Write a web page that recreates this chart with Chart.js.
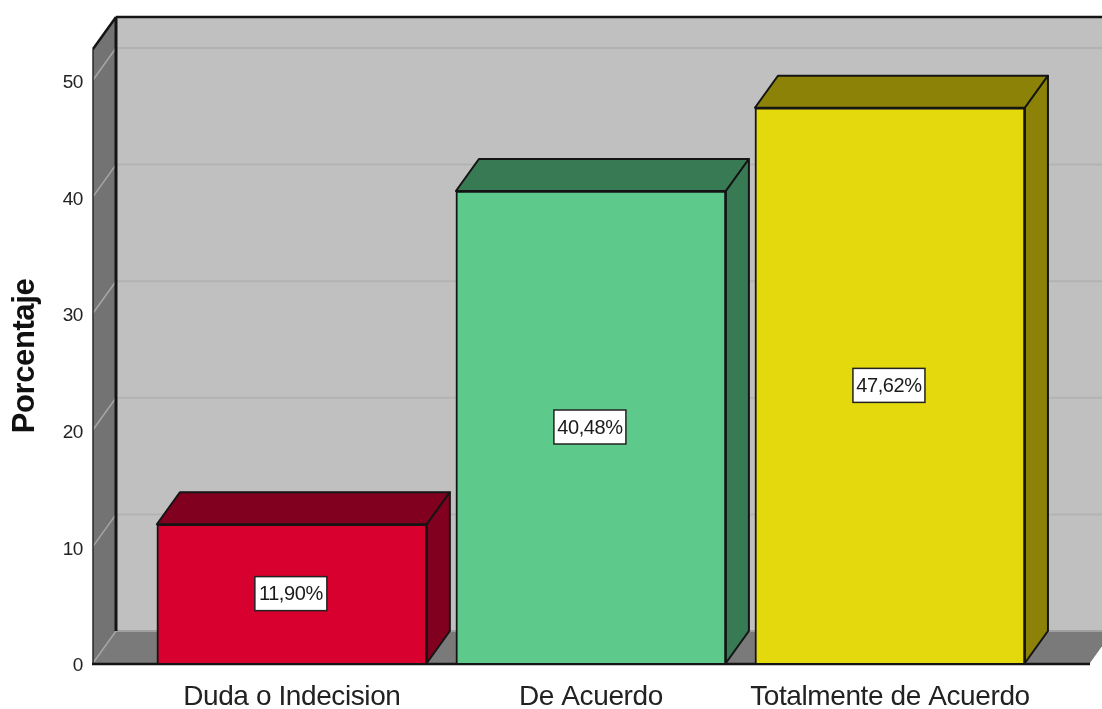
<!DOCTYPE html>
<html>
<head>
<meta charset="utf-8">
<style>html,body{margin:0;padding:0;background:#fff}canvas{display:block}</style>
<script src="https://cdn.jsdelivr.net/npm/chart.js@4"></script>
</head>
<body>
<canvas id="c" width="1102" height="709"></canvas>
<script>
const categories = ["Duda o Indecision", "De Acuerdo", "Totalmente de Acuerdo"];
const values = [11.90, 40.48, 47.62];
const valueLabels = ["11,90%", "40,48%", "47,62%"];
const frontColors = ["#d7002e", "#5dca8b", "#e4d90c"];
const depthColors = ["#82001f", "#377a54", "#8c8208"];
const yTicks = [0, 10, 20, 30, 40, 50];
const axisTitle = "Porcentaje";

const DX = 23, DY = -32, INK = "#141414";
const SANS = '"Liberation Sans",Arial,sans-serif';

function poly(ctx, pts, fill, stroke, lw) {
  ctx.beginPath();
  pts.forEach((p, i) => i ? ctx.lineTo(p[0], p[1]) : ctx.moveTo(p[0], p[1]));
  ctx.closePath();
  if (fill) { ctx.fillStyle = fill; ctx.fill(); }
  if (stroke) { ctx.strokeStyle = stroke; ctx.lineWidth = lw; ctx.lineJoin = "round"; ctx.stroke(); }
}
function seg(ctx, x1, y1, x2, y2, c, w) {
  ctx.beginPath(); ctx.moveTo(x1, y1); ctx.lineTo(x2, y2);
  ctx.strokeStyle = c; ctx.lineWidth = w; ctx.stroke();
}

const box3d = {
  id: "box3d",
  beforeDraw(chart) {
    chart.ctx.letterSpacing = "-0.4px";
  },
  beforeDatasetsDraw(chart) {
    const { ctx, chartArea: a, scales: { y } } = chart;
    const L = a.left, R = a.right, T = a.top, B = a.bottom;
    ctx.save();
    // back wall, side wall, floor
    poly(ctx, [[L + DX, T + DY], [chart.width + 40, T + DY], [chart.width + 40, B + DY], [L + DX, B + DY]], "#c0c0c0");
    poly(ctx, [[L, T], [L + DX, T + DY], [L + DX, B + DY], [L, B]], "#737373");
    poly(ctx, [[L, B], [L + DX, B + DY], [R + DX, B + DY], [R, B]], "#7a7a7a");
    // grid lines from the value scale
    yTicks.forEach(v => {
      const p = y.getPixelForValue(v);
      seg(ctx, L, p, L + DX, p + DY, "#a6a6a6", 1.5);
      seg(ctx, L + DX, p + DY, chart.width + 40, p + DY, v === 0 ? "#a0a0a0" : "#b3b3b3", 2);
    });
    // frame
    seg(ctx, L, B, L, T, "#2a2a2a", 1.5);
    seg(ctx, L + DX, B + DY, L + DX, T + DY, INK, 3);
    seg(ctx, L + DX, T + DY, chart.width + 40, T + DY, INK, 2.5);
    seg(ctx, L, T, L + DX, T + DY, INK, 2.5);
    seg(ctx, L - 1, B + 1, R, B + 1, INK, 2.5);
    // bar depth faces
    const meta = chart.getDatasetMeta(0);
    meta.data.forEach((el, i) => {
      const h = el.getProps(["x", "y", "base", "width"], true);
      const l = h.x - h.width / 2, r = h.x + h.width / 2, t = h.y, b = h.base;
      poly(ctx, [[l, t], [l + DX, t + DY], [r + DX, t + DY], [r, t]], depthColors[i], INK, 2);
      poly(ctx, [[r, t], [r + DX, t + DY], [r + DX, b + DY], [r, b]], depthColors[i], INK, 2);
    });
    ctx.restore();
  },
  afterDatasetsDraw(chart) {
    const { ctx, scales: { x, y } } = chart;
    ctx.save();
    ctx.font = "20px " + SANS;
    ctx.textAlign = "center";
    ctx.textBaseline = "middle";
    values.forEach((v, i) => {
      const cx = x.getPixelForValue(i) - 1, cy = y.getPixelForValue(v / 2);
      const bw = 72, bh = 34;
      ctx.fillStyle = "#fff";
      ctx.fillRect(cx - bw / 2, cy - bh / 2, bw, bh);
      ctx.strokeStyle = "#222"; ctx.lineWidth = 1.5;
      ctx.strokeRect(cx - bw / 2, cy - bh / 2, bw, bh);
      ctx.fillStyle = "#1a1a1a";
      ctx.fillText(valueLabels[i], cx, cy + 1);
    });
    ctx.restore();
  }
};

new Chart(document.getElementById("c"), {
  type: "bar",
  data: {
    datasets: [{
      data: values.map((v, i) => ({ x: i, y: v })),
      backgroundColor: frontColors,
      borderColor: INK,
      borderWidth: 2,
      barThickness: 270
    }]
  },
  options: {
    responsive: false,
    animation: false,
    layout: { padding: { top: 49, right: 12, left: 0, bottom: 0 } },
    plugins: { legend: { display: false }, tooltip: { enabled: false } },
    scales: {
      x: {
        type: "linear",
        offset: false,
        min: -0.665,
        max: 2.669,
        grid: { display: false },
        border: { display: false },
        afterBuildTicks(s) { s.ticks = categories.map((_, i) => ({ value: i })); },
        afterFit(s) { s.height = 46; },
        ticks: {
          autoSkip: false,
          maxRotation: 0,
          padding: 9,
          color: "#222",
          font: { family: SANS, size: 28 },
          callback: v => categories[v]
        }
      },
      y: {
        min: 0,
        max: 52.66,
        grid: { display: false },
        border: { display: false },
        afterBuildTicks(s) { s.ticks = yTicks.map(v => ({ value: v })); },
        afterFit(s) { s.width = 93; },
        title: {
          display: true,
          text: axisTitle,
          color: "#111",
          font: { family: SANS, size: 31, weight: "bold" },
          padding: { top: 7, bottom: 0 }
        },
        ticks: {
          padding: 2,
          labelOffset: 3,
          color: "#222",
          font: { family: SANS, size: 19 }
        }
      }
    }
  },
  plugins: [box3d]
});
</script>
</body>
</html>
